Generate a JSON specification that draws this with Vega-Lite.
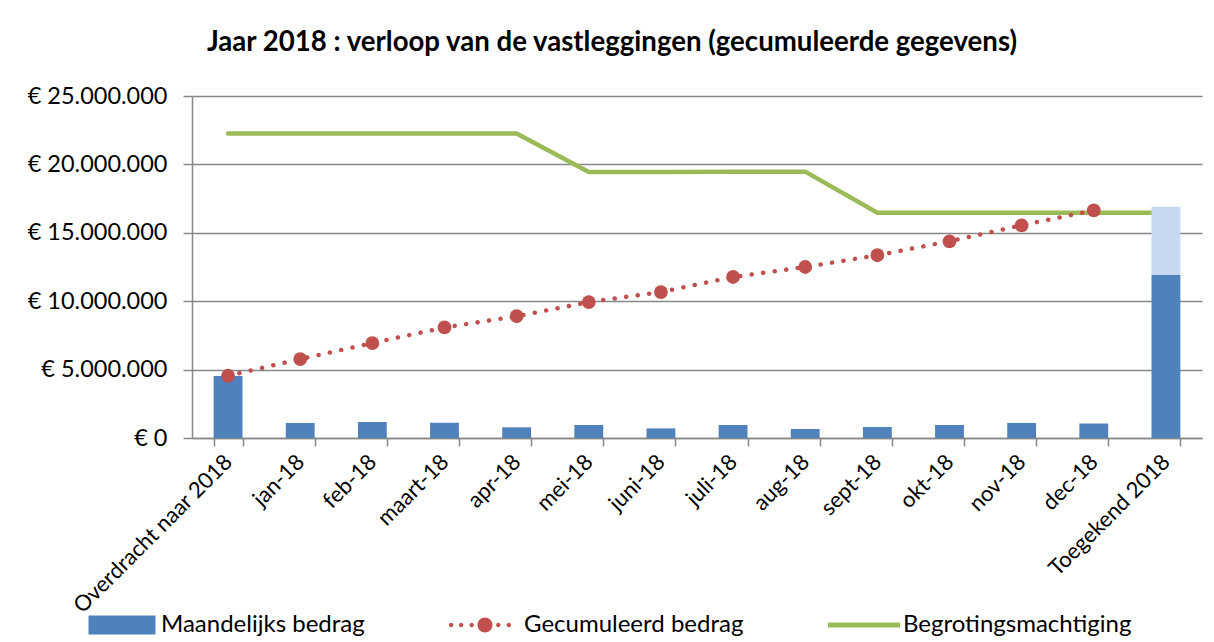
{
  "$schema": "https://vega.github.io/schema/vega-lite/v6.json",
  "width": 1010,
  "height": 342,
  "autosize": {"type": "none"},
  "padding": {"left": 192, "top": 96, "right": 12, "bottom": 204},
  "background": "white",
  "title": {
    "text": "Jaar 2018 : verloop van de vastleggingen (gecumuleerde gegevens)",
    "font": "Lato",
    "fontSize": 27.6,
    "fontWeight": "bold",
    "color": "black",
    "anchor": "middle",
    "dx": -85,
    "baseline": "alphabetic",
    "offset": 5
  },
  "config": {
    "view": {"stroke": null},
    "font": "Lato",
    "axis": {"labelFont": "Lato", "labelColor": "black", "domainColor": "#888888", "tickColor": "#888888", "gridColor": "#888888"},
    "legend": {"labelFont": "Lato"}
  },
  "data": {
    "values": [
      {"cat": "Overdracht naar 2018", "monthly": 4530000, "cum": 4550000, "budget": 22260000},
      {"cat": "jan-18", "monthly": 1100000, "cum": 5770000, "budget": 22260000},
      {"cat": "feb-18", "monthly": 1170000, "cum": 6940000, "budget": 22260000},
      {"cat": "maart-18", "monthly": 1120000, "cum": 8080000, "budget": 22260000},
      {"cat": "apr-18", "monthly": 780000, "cum": 8900000, "budget": 22260000},
      {"cat": "mei-18", "monthly": 950000, "cum": 9940000, "budget": 19450000},
      {"cat": "juni-18", "monthly": 700000, "cum": 10670000, "budget": 19450000},
      {"cat": "juli-18", "monthly": 950000, "cum": 11770000, "budget": 19470000},
      {"cat": "aug-18", "monthly": 660000, "cum": 12500000, "budget": 19470000},
      {"cat": "sept-18", "monthly": 800000, "cum": 13360000, "budget": 16460000},
      {"cat": "okt-18", "monthly": 950000, "cum": 14380000, "budget": 16460000},
      {"cat": "nov-18", "monthly": 1100000, "cum": 15550000, "budget": 16460000},
      {"cat": "dec-18", "monthly": 1060000, "cum": 16640000, "budget": 16460000},
      {"cat": "Toegekend 2018", "monthly": 11920000, "total": 16900000, "budget": 16460000}
    ]
  },
  "encoding": {
    "x": {
      "field": "cat",
      "type": "nominal",
      "sort": null,
      "scale": {"paddingInner": 0.6, "paddingOuter": 0.3},
      "axis": {
        "title": null,
        "labelAngle": -45,
        "labelAlign": "right",
        "labelBaseline": "middle",
        "labelFontSize": 22,
        "labelPadding": 12,
        "labelLimit": 0,
        "tickBand": "extent",
        "tickSize": 8,
        "tickWidth": 1.5,
        "domainWidth": 1.5,
        "labelOverlap": false
      }
    }
  },
  "layer": [
    {
      "mark": {"type": "line", "strokeWidth": 4.5, "strokeCap": "round", "strokeJoin": "miter"},
      "encoding": {
        "y": {
          "field": "budget",
          "type": "quantitative",
          "scale": {"domain": [0, 25000000], "nice": false},
          "axis": {
            "title": null,
            "values": [0, 5000000, 10000000, 15000000, 20000000, 25000000],
            "labelExpr": "'€ ' + replace(format(datum.value, ','), regexp(',', 'g'), '.')",
            "labelFontSize": 23.5,
            "labelPadding": 16,
            "tickSize": 9,
            "tickWidth": 1.5,
            "gridWidth": 1.5,
            "domainWidth": 1.5,
            "grid": true
          }
        },
        "color": {
          "datum": "Begrotingsmachtiging",
          "type": "nominal",
          "scale": {
            "domain": ["Maandelijks bedrag", "Gecumuleerd bedrag", "Begrotingsmachtiging"],
            "range": ["#4F81BD", "#C0504D", "#9BBB59"]
          },
          "legend": {
            "title": null,
            "orient": "none",
            "direction": "horizontal",
            "legendX": -82,
            "legendY": 517,
            "labelFontSize": 24,
            "labelColor": "black",
            "labelLimit": 0,
            "symbolSize": 400,
            "labelOffset": 27,
            "columnPadding": 84,
            "encode": {
              "symbols": {
                "update": {
                  "shape": {"signal": "datum.value === 'Maandelijks bedrag' ? 'M-3.35,-0.95H3.35V0.95H-3.35Z' : datum.value === 'Gecumuleerd bedrag' ? 'M-0.75,0A0.75,0.75,0,1,0,0.75,0A0.75,0.75,0,1,0,-0.75,0Z M-3.6,0A0.22,0.22,0,1,0,-3.16,0A0.22,0.22,0,1,0,-3.6,0Z M-2.6,0A0.22,0.22,0,1,0,-2.16,0A0.22,0.22,0,1,0,-2.6,0Z M-1.55,0A0.22,0.22,0,1,0,-1.11,0A0.22,0.22,0,1,0,-1.55,0Z M1.11,0A0.22,0.22,0,1,0,1.55,0A0.22,0.22,0,1,0,1.11,0Z M2.16,0A0.22,0.22,0,1,0,2.6,0A0.22,0.22,0,1,0,2.16,0Z' : 'M-3.6,-0.25H3.6V0.25H-3.6Z'"},
                  "fill": {"signal": "datum.value === 'Maandelijks bedrag' ? '#4F81BD' : datum.value === 'Gecumuleerd bedrag' ? '#C0504D' : '#9BBB59'"},
                  "stroke": {"value": "transparent"},
                  "strokeWidth": {"value": 0},
                  "opacity": {"value": 1},
                  "fillOpacity": {"value": 1}
                }
              }
            }
          }
        }
      }
    },
    {
      "mark": {"type": "bar"},
      "encoding": {
        "y": {"field": "monthly", "type": "quantitative"},
        "color": {"datum": "Maandelijks bedrag", "type": "nominal"}
      }
    },
    {
      "mark": {"type": "bar", "color": "#C6D9F1"},
      "encoding": {
        "y": {"field": "monthly", "type": "quantitative"},
        "y2": {"field": "total"}
      }
    },
    {
      "transform": [{"filter": "isValid(datum.cum)"}],
      "mark": {"type": "line", "strokeWidth": 4.5, "strokeCap": "round", "strokeDash": [0.1, 11.5]},
      "encoding": {
        "y": {"field": "cum", "type": "quantitative"},
        "color": {"datum": "Gecumuleerd bedrag", "type": "nominal"}
      }
    },
    {
      "transform": [{"filter": "isValid(datum.cum)"}],
      "mark": {"type": "point", "filled": true, "size": 190, "opacity": 1, "shape": "circle"},
      "encoding": {
        "y": {"field": "cum", "type": "quantitative"},
        "color": {"datum": "Gecumuleerd bedrag", "type": "nominal"}
      }
    }
  ]
}
